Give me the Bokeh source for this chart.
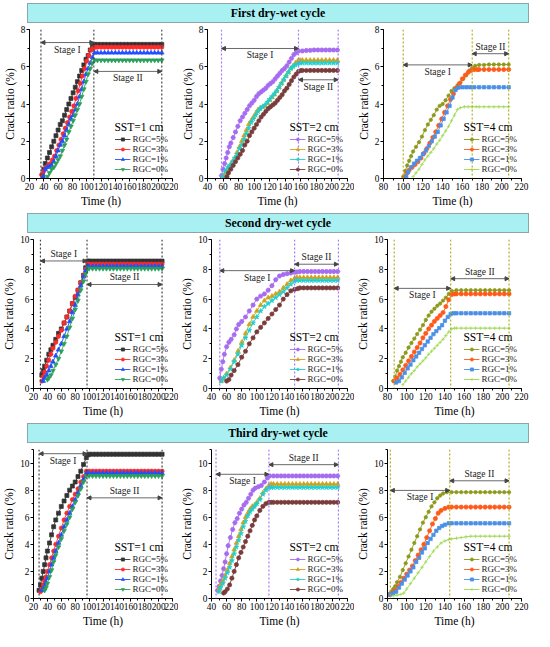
from bokeh.plotting import figure
from bokeh.models import (Range1d, SingleIntervalTicker, Legend, LegendItem, Span,
                          Arrow, NormalHead, Label, Div)
from bokeh.layouts import row, column
from bokeh.embed import file_html
from bokeh.resources import INLINE

# ---------------- labels ----------------
CYCLES = ["First dry-wet cycle", "Second dry-wet cycle", "Third dry-wet cycle"]
SST = ["SST=1 cm", "SST=2 cm", "SST=4 cm"]
RGC = ["RGC=5%", "RGC=3%", "RGC=1%", "RGC=0%"]
X_RANGES = [(20, 220), (40, 220), (80, 220)]
Y_MAX = [8, 10, 11]
X_TICK_STEP = 20
Y_TICK_STEP = 2

# ---------------- stage boundaries (h) ----------------
P1_STAGE = [36, 110, 205]
P2_STAGE = [58, 157, 208]
P3_STAGE = [100, 170, 207]
P4_STAGE = [30, 97, 205]
P5_STAGE = [51, 150, 208]
P6_STAGE = [87, 146, 207]
P7_STAGE = [28, 97, 205]
P8_STAGE = [46, 116, 208]
P9_STAGE = [83, 145, 207]

# ---------------- Row 1, SST=1 cm ----------------
P1_TF = [115, 120, 125, 130, 135, 140, 145, 150, 155, 160, 165, 170, 175, 180, 185, 190, 195, 200, 205]
P1_T5 = [38, 40, 42, 45, 48, 51, 54, 57, 60, 63, 66, 69, 72, 75, 78, 81, 84, 87, 90, 93, 96, 99, 102, 105, 108, 111]
P1_Y5 = [0.2, 0.5, 0.8, 1.1, 1.4, 1.7, 2.0, 2.3, 2.6, 2.9, 3.1, 3.4, 3.7, 4.0, 4.3, 4.6, 4.9, 5.2, 5.5, 5.8, 6.1, 6.4, 6.6, 6.9, 7.1, 7.2]
P1_F5 = [7.2, 7.2, 7.2, 7.2, 7.2, 7.2, 7.2, 7.2, 7.2, 7.2, 7.2, 7.2, 7.2, 7.2, 7.2, 7.2, 7.2, 7.2, 7.2]
P1_T3 = [37, 40, 43, 46, 49, 52, 55, 58, 61, 64, 67, 70, 73, 76, 79, 82, 85, 88, 91, 94, 97, 100, 103, 106, 109, 112]
P1_Y3 = [0.2, 0.4, 0.6, 0.7, 0.8, 1.0, 1.2, 1.5, 1.8, 2.1, 2.4, 2.7, 3.0, 3.3, 3.6, 3.9, 4.3, 4.7, 5.1, 5.5, 5.9, 6.3, 6.6, 6.9, 7.0, 7.05]
P1_F3 = [7.05, 7.05, 7.05, 7.05, 7.05, 7.05, 7.05, 7.05, 7.05, 7.05, 7.05, 7.05, 7.05, 7.05, 7.05, 7.05, 7.05, 7.05, 7.05]
P1_T1 = [39, 42, 45, 48, 51, 54, 57, 60, 63, 66, 69, 72, 75, 78, 81, 84, 87, 90, 93, 96, 99, 102, 105, 108, 111]
P1_Y1 = [0.1, 0.5, 0.6, 0.65, 0.7, 0.9, 1.2, 1.5, 1.8, 2.0, 2.3, 2.6, 2.9, 3.2, 3.4, 3.7, 4.0, 4.4, 4.8, 5.2, 5.6, 5.9, 6.2, 6.5, 6.75]
P1_F1 = [6.75, 6.75, 6.75, 6.75, 6.75, 6.75, 6.75, 6.75, 6.75, 6.75, 6.75, 6.75, 6.75, 6.75, 6.75, 6.75, 6.75, 6.75, 6.75]
P1_T0 = [45, 48, 51, 54, 57, 60, 63, 66, 69, 72, 75, 78, 81, 84, 87, 90, 93, 96, 99, 102, 105, 108, 111]
P1_Y0 = [0.1, 0.3, 0.5, 0.6, 0.8, 1.0, 1.2, 1.5, 1.8, 2.1, 2.5, 2.8, 3.1, 3.4, 3.7, 4.0, 4.4, 4.8, 5.2, 5.6, 5.9, 6.2, 6.35]
P1_F0 = [6.35, 6.35, 6.35, 6.35, 6.35, 6.35, 6.35, 6.35, 6.35, 6.35, 6.35, 6.35, 6.35, 6.35, 6.35, 6.35, 6.35, 6.35, 6.35]

# ---------------- Row 1, SST=2 cm ----------------
P2_TF = [162, 167, 172, 177, 182, 187, 192, 197, 202, 207]
P2_T5 = [58, 60, 62, 64, 66, 68, 70, 73, 76, 79, 82, 85, 88, 91, 94, 97, 100, 103, 106, 109, 112, 115, 118, 121, 124, 127, 130, 133, 136, 139, 142, 145, 148, 151, 154, 157]
P2_Y5 = [0.15, 0.5, 0.8, 1.1, 1.4, 1.7, 1.9, 2.2, 2.5, 2.8, 3.1, 3.3, 3.5, 3.7, 3.9, 4.05, 4.2, 4.4, 4.55, 4.65, 4.75, 4.85, 5.0, 5.1, 5.2, 5.35, 5.5, 5.65, 5.8, 5.9, 6.05, 6.25, 6.45, 6.65, 6.75, 6.85]
P2_F5 = [6.85, 6.87, 6.88, 6.9, 6.9, 6.9, 6.9, 6.9, 6.9, 6.9]
P2_T3 = [60, 63, 66, 69, 72, 75, 78, 81, 84, 87, 90, 93, 96, 99, 102, 105, 108, 111, 114, 117, 120, 123, 126, 129, 132, 135, 138, 141, 144, 147, 150, 153, 156, 159]
P2_Y3 = [0.1, 0.3, 0.5, 0.7, 0.9, 1.1, 1.4, 1.7, 2.0, 2.3, 2.6, 2.9, 3.1, 3.3, 3.5, 3.7, 3.8, 3.85, 3.9, 4.05, 4.2, 4.35, 4.5, 4.7, 4.9, 5.1, 5.3, 5.5, 5.7, 5.9, 6.05, 6.2, 6.3, 6.35]
P2_F3 = [6.35, 6.35, 6.35, 6.35, 6.35, 6.35, 6.35, 6.35, 6.35, 6.35]
P2_T1 = [60, 63, 66, 69, 72, 75, 78, 81, 84, 87, 90, 93, 96, 99, 102, 105, 108, 111, 114, 117, 120, 123, 126, 129, 132, 135, 138, 141, 144, 147, 150, 153, 156, 159]
P2_Y1 = [0.1, 0.4, 0.6, 0.7, 0.9, 1.1, 1.3, 1.6, 1.8, 2.1, 2.4, 2.7, 3.0, 3.2, 3.4, 3.6, 3.75, 3.85, 3.95, 4.1, 4.25, 4.4, 4.55, 4.7, 4.9, 5.1, 5.3, 5.5, 5.7, 5.9, 6.0, 6.1, 6.15, 6.2]
P2_F1 = [6.2, 6.2, 6.2, 6.2, 6.2, 6.2, 6.2, 6.2, 6.2, 6.2]
P2_T0 = [65, 67, 70, 73, 76, 79, 82, 85, 88, 91, 94, 97, 100, 103, 106, 109, 112, 115, 118, 121, 124, 127, 130, 133, 136, 139, 142, 145, 148, 151, 154, 157, 160]
P2_Y0 = [0.1, 0.3, 0.5, 0.7, 0.9, 1.1, 1.3, 1.5, 1.8, 2.0, 2.3, 2.5, 2.7, 2.9, 3.1, 3.3, 3.45, 3.6, 3.75, 3.85, 3.95, 4.05, 4.2, 4.35, 4.5, 4.7, 4.85, 5.05, 5.25, 5.45, 5.6, 5.75, 5.8]
P2_F0 = [5.8, 5.8, 5.8, 5.8, 5.8, 5.8, 5.8, 5.8, 5.8, 5.8]

# ---------------- Row 1, SST=4 cm ----------------
P3_TF = [177, 182, 187, 192, 197, 202, 207]
P3_T5 = [100, 102, 104, 106, 108, 110, 113, 116, 119, 122, 125, 128, 131, 134, 137, 140, 143, 146, 149, 152, 155, 158, 161, 164, 167, 170, 173]
P3_Y5 = [0.1, 0.4, 0.7, 0.95, 1.2, 1.45, 1.7, 1.95, 2.25, 2.6, 2.9, 3.15, 3.4, 3.7, 3.9, 4.0, 4.2, 4.45, 4.7, 4.85, 5.0, 5.15, 5.35, 5.55, 5.8, 5.95, 6.05]
P3_F5 = [6.1, 6.1, 6.12, 6.12, 6.12, 6.12, 6.12]
P3_T3 = [102, 104, 106, 109, 112, 115, 118, 121, 124, 127, 130, 133, 136, 139, 142, 145, 148, 151, 154, 157, 160, 163, 166, 169, 172, 175]
P3_Y3 = [0.1, 0.3, 0.45, 0.6, 0.75, 0.9, 1.1, 1.35, 1.6, 1.9, 2.2, 2.5, 2.85, 3.2, 3.55, 3.9, 4.25, 4.55, 4.85, 5.1, 5.35, 5.55, 5.7, 5.8, 5.85, 5.85]
P3_F3 = [5.85, 5.85, 5.85, 5.85, 5.85, 5.85, 5.85]
P3_T1 = [103, 105, 108, 111, 114, 117, 120, 123, 126, 129, 132, 135, 138, 141, 144, 147, 150, 153, 156, 160, 164, 168, 172]
P3_Y1 = [0.1, 0.35, 0.6, 0.8, 0.95, 1.1, 1.3, 1.5, 1.75, 2.0, 2.25, 2.5, 2.85, 3.2, 3.55, 3.9, 4.35, 4.75, 4.88, 4.9, 4.9, 4.9, 4.9]
P3_F1 = [4.9, 4.9, 4.9, 4.9, 4.9, 4.9, 4.9]
P3_T0 = [110, 113, 116, 119, 122, 125, 128, 131, 134, 137, 140, 143, 146, 149, 152, 155, 158, 162, 166, 170, 174]
P3_Y0 = [0.1, 0.3, 0.5, 0.75, 1.0, 1.2, 1.4, 1.6, 1.85, 2.05, 2.3, 2.55, 2.8, 3.1, 3.4, 3.7, 3.8, 3.85, 3.85, 3.85, 3.85]
P3_F0 = [3.85, 3.85, 3.85, 3.85, 3.85, 3.85, 3.85]

# ---------------- Row 2, SST=1 cm ----------------
P4_TF = [100, 105, 110, 115, 120, 125, 130, 135, 140, 145, 150, 155, 160, 165, 170, 175, 180, 185, 190, 195, 200, 205]
P4_T5 = [32, 34, 36, 39, 42, 45, 48, 52, 56, 60, 64, 68, 72, 76, 80, 84, 88, 92, 95, 98]
P4_Y5 = [0.9, 1.2, 1.5, 1.9, 2.3, 2.6, 2.9, 3.3, 3.7, 4.0, 4.4, 4.8, 5.2, 5.7, 6.1, 6.6, 7.1, 7.6, 8.1, 8.55]
P4_F5 = [8.55, 8.55, 8.55, 8.55, 8.55, 8.55, 8.55, 8.55, 8.55, 8.55, 8.55, 8.55, 8.55, 8.55, 8.55, 8.55, 8.55, 8.55, 8.55, 8.55, 8.55, 8.55]
P4_T3 = [32, 34, 36, 39, 42, 45, 48, 52, 56, 60, 64, 68, 72, 76, 80, 84, 88, 92, 95, 98]
P4_Y3 = [0.5, 0.8, 1.1, 1.5, 1.9, 2.3, 2.7, 3.1, 3.5, 3.9, 4.4, 4.8, 5.2, 5.7, 6.2, 6.6, 7.1, 7.6, 8.0, 8.35]
P4_F3 = [8.35, 8.35, 8.35, 8.35, 8.35, 8.35, 8.35, 8.35, 8.35, 8.35, 8.35, 8.35, 8.35, 8.35, 8.35, 8.35, 8.35, 8.35, 8.35, 8.35, 8.35, 8.35]
P4_T1 = [34, 36, 39, 42, 45, 48, 52, 56, 60, 64, 68, 72, 76, 80, 84, 88, 92, 95, 98]
P4_Y1 = [0.5, 0.7, 0.9, 1.2, 1.5, 1.8, 2.2, 2.6, 3.0, 3.5, 4.0, 4.5, 5.1, 5.6, 6.3, 6.9, 7.5, 7.9, 8.2]
P4_F1 = [8.2, 8.2, 8.2, 8.2, 8.2, 8.2, 8.2, 8.2, 8.2, 8.2, 8.2, 8.2, 8.2, 8.2, 8.2, 8.2, 8.2, 8.2, 8.2, 8.2, 8.2, 8.2]
P4_T0 = [40, 42, 45, 48, 52, 56, 60, 64, 68, 72, 76, 80, 84, 88, 92, 95, 98]
P4_Y0 = [0.6, 0.7, 0.9, 1.2, 1.6, 2.0, 2.5, 3.0, 3.5, 4.1, 4.7, 5.3, 5.9, 6.6, 7.2, 7.7, 8.05]
P4_F0 = [8.05, 8.05, 8.05, 8.05, 8.05, 8.05, 8.05, 8.05, 8.05, 8.05, 8.05, 8.05, 8.05, 8.05, 8.05, 8.05, 8.05, 8.05, 8.05, 8.05, 8.05, 8.05]

# ---------------- Row 2, SST=2 cm ----------------
P5_TF = [157, 162, 167, 172, 177, 182, 187, 192, 197, 202, 207]
P5_T5 = [51, 53, 55, 57, 60, 63, 66, 70, 73, 76, 80, 85, 90, 95, 100, 105, 110, 115, 120, 125, 130, 135, 140, 145, 150, 153]
P5_Y5 = [0.7, 1.3, 1.8, 2.3, 2.8, 3.1, 3.3, 3.6, 4.0, 4.3, 4.5, 4.8, 5.2, 5.6, 6.0, 6.2, 6.35, 6.6, 6.9, 7.3, 7.55, 7.65, 7.7, 7.75, 7.8, 7.82]
P5_F5 = [7.85, 7.85, 7.85, 7.85, 7.85, 7.85, 7.85, 7.85, 7.85, 7.85, 7.85]
P5_T3 = [53, 56, 60, 65, 70, 75, 80, 85, 90, 95, 100, 105, 110, 115, 120, 125, 130, 135, 140, 145, 150, 153]
P5_Y3 = [0.5, 0.7, 1.0, 1.4, 1.9, 2.5, 3.1, 3.7, 4.3, 4.8, 5.2, 5.6, 5.9, 6.1, 6.2, 6.35, 6.5, 6.75, 7.0, 7.25, 7.4, 7.45]
P5_F3 = [7.45, 7.45, 7.45, 7.45, 7.45, 7.45, 7.45, 7.45, 7.45, 7.45, 7.45]
P5_T1 = [53, 56, 60, 65, 70, 75, 80, 85, 90, 95, 100, 105, 110, 115, 120, 125, 130, 135, 140, 145, 150, 153]
P5_Y1 = [0.5, 0.7, 0.9, 1.3, 1.8, 2.3, 2.9, 3.4, 3.9, 4.4, 4.8, 5.2, 5.5, 5.7, 5.9, 6.1, 6.3, 6.5, 6.75, 7.0, 7.2, 7.25]
P5_F1 = [7.25, 7.25, 7.25, 7.25, 7.25, 7.25, 7.25, 7.25, 7.25, 7.25, 7.25]
P5_T0 = [60, 63, 66, 70, 75, 80, 85, 90, 95, 100, 105, 110, 115, 120, 125, 130, 135, 140, 145, 150, 154]
P5_Y0 = [0.5, 0.6, 0.9, 1.2, 1.6, 2.1, 2.5, 3.0, 3.4, 3.8, 4.1, 4.4, 4.7, 5.0, 5.3, 5.6, 6.0, 6.3, 6.55, 6.65, 6.7]
P5_F0 = [6.75, 6.75, 6.75, 6.75, 6.75, 6.75, 6.75, 6.75, 6.75, 6.75, 6.75]

# ---------------- Row 2, SST=4 cm ----------------
P6_TF = [152, 157, 162, 167, 172, 177, 182, 187, 192, 197, 202, 207]
P6_T5 = [86, 88, 90, 92, 94, 96, 99, 102, 105, 108, 111, 114, 117, 120, 123, 126, 129, 132, 135, 138, 141, 144, 147]
P6_Y5 = [0.5, 0.8, 1.2, 1.5, 1.8, 2.1, 2.4, 2.75, 3.05, 3.35, 3.65, 3.95, 4.25, 4.6, 4.9, 5.15, 5.35, 5.55, 5.7, 5.9, 6.1, 6.35, 6.55]
P6_F5 = [6.6, 6.6, 6.6, 6.6, 6.6, 6.6, 6.6, 6.6, 6.6, 6.6, 6.6, 6.6]
P6_T3 = [87, 90, 93, 96, 99, 102, 105, 108, 111, 114, 117, 120, 123, 126, 129, 132, 135, 138, 141, 144, 147, 150]
P6_Y3 = [0.5, 0.7, 0.95, 1.25, 1.55, 1.85, 2.15, 2.45, 2.75, 3.05, 3.4, 3.7, 4.0, 4.25, 4.5, 4.7, 4.9, 5.1, 5.5, 5.95, 6.3, 6.35]
P6_F3 = [6.35, 6.35, 6.35, 6.35, 6.35, 6.35, 6.35, 6.35, 6.35, 6.35, 6.35, 6.35]
P6_T1 = [89, 92, 95, 98, 101, 104, 107, 110, 113, 116, 119, 122, 125, 128, 131, 134, 137, 140, 143, 146, 149]
P6_Y1 = [0.4, 0.5, 0.75, 1.05, 1.35, 1.6, 1.9, 2.15, 2.4, 2.65, 2.9, 3.15, 3.4, 3.65, 3.85, 4.05, 4.25, 4.55, 4.8, 5.0, 5.05]
P6_F1 = [5.05, 5.05, 5.05, 5.05, 5.05, 5.05, 5.05, 5.05, 5.05, 5.05, 5.05, 5.05]
P6_T0 = [96, 99, 102, 105, 108, 111, 114, 117, 120, 123, 126, 129, 132, 135, 138, 141, 144, 147, 150]
P6_Y0 = [0.25, 0.5, 0.75, 1.0, 1.2, 1.45, 1.65, 1.85, 2.05, 2.3, 2.5, 2.7, 2.9, 3.1, 3.3, 3.55, 3.8, 4.0, 4.05]
P6_F0 = [4.05, 4.05, 4.05, 4.05, 4.05, 4.05, 4.05, 4.05, 4.05, 4.05, 4.05, 4.05]

# ---------------- Row 3, SST=1 cm ----------------
P7_TF = [100, 105, 110, 115, 120, 125, 130, 135, 140, 145, 150, 155, 160, 165, 170, 175, 180, 185, 190, 195, 200, 205]
P7_T5 = [28, 30, 32, 34, 36, 38, 40, 43, 46, 49, 52, 56, 60, 64, 68, 72, 76, 80, 84, 88, 92, 96, 98]
P7_Y5 = [0.6, 1.0, 1.5, 2.0, 2.5, 3.0, 3.5, 4.1, 4.7, 5.3, 5.8, 6.3, 6.8, 7.2, 7.6, 8.0, 8.3, 8.6, 9.0, 9.4, 9.9, 10.4, 10.6]
P7_F5 = [10.65, 10.65, 10.65, 10.65, 10.65, 10.65, 10.65, 10.65, 10.65, 10.65, 10.65, 10.65, 10.65, 10.65, 10.65, 10.65, 10.65, 10.65, 10.65, 10.65, 10.65, 10.65]
P7_T3 = [30, 32, 34, 36, 38, 40, 43, 46, 49, 52, 56, 60, 64, 68, 72, 76, 80, 84, 88, 92, 96]
P7_Y3 = [0.5, 0.7, 1.0, 1.3, 1.6, 2.0, 2.5, 3.0, 3.5, 4.0, 4.6, 5.2, 5.8, 6.3, 6.8, 7.3, 7.7, 8.1, 8.6, 9.0, 9.4]
P7_F3 = [9.4, 9.4, 9.4, 9.4, 9.4, 9.4, 9.4, 9.4, 9.4, 9.4, 9.4, 9.4, 9.4, 9.4, 9.4, 9.4, 9.4, 9.4, 9.4, 9.4, 9.4, 9.4]
P7_T1 = [32, 34, 36, 38, 40, 43, 46, 49, 52, 56, 60, 64, 68, 72, 76, 80, 84, 88, 92, 96]
P7_Y1 = [0.6, 0.7, 0.9, 1.2, 1.5, 2.0, 2.5, 3.0, 3.5, 4.1, 4.7, 5.3, 5.8, 6.3, 6.8, 7.3, 7.8, 8.3, 8.8, 9.25]
P7_F1 = [9.25, 9.25, 9.25, 9.25, 9.25, 9.25, 9.25, 9.25, 9.25, 9.25, 9.25, 9.25, 9.25, 9.25, 9.25, 9.25, 9.25, 9.25, 9.25, 9.25, 9.25, 9.25]
P7_T0 = [36, 38, 40, 43, 46, 49, 52, 56, 60, 64, 68, 72, 76, 80, 84, 88, 92, 96]
P7_Y0 = [0.6, 0.8, 1.1, 1.6, 2.1, 2.7, 3.2, 3.8, 4.4, 5.0, 5.5, 6.0, 6.6, 7.1, 7.6, 8.1, 8.6, 9.05]
P7_F0 = [9.05, 9.05, 9.05, 9.05, 9.05, 9.05, 9.05, 9.05, 9.05, 9.05, 9.05, 9.05, 9.05, 9.05, 9.05, 9.05, 9.05, 9.05, 9.05, 9.05, 9.05, 9.05]

# ---------------- Row 3, SST=2 cm ----------------
P8_TF = [122, 127, 132, 137, 142, 147, 152, 157, 162, 167, 172, 177, 182, 187, 192, 197, 202, 207]
P8_T5 = [48, 50, 52, 54, 56, 58, 60, 62, 65, 68, 71, 74, 77, 80, 83, 86, 89, 92, 95, 98, 102, 106, 110, 114, 117]
P8_Y5 = [0.6, 0.9, 1.3, 1.7, 2.2, 2.7, 3.3, 3.9, 4.5, 5.1, 5.6, 5.9, 6.3, 6.6, 6.9, 7.1, 7.4, 7.7, 8.0, 8.15, 8.25, 8.35, 8.6, 8.9, 9.05]
P8_F5 = [9.05, 9.05, 9.05, 9.05, 9.05, 9.05, 9.05, 9.05, 9.05, 9.05, 9.05, 9.05, 9.05, 9.05, 9.05, 9.05, 9.05, 9.05]
P8_T3 = [50, 52, 55, 58, 61, 64, 67, 70, 73, 76, 79, 82, 85, 88, 91, 94, 97, 100, 104, 108, 112, 116, 119]
P8_Y3 = [0.7, 1.0, 1.3, 1.7, 2.1, 2.6, 3.1, 3.6, 4.1, 4.6, 5.1, 5.6, 6.0, 6.3, 6.6, 6.8, 6.9, 7.1, 7.4, 7.8, 8.1, 8.35, 8.45]
P8_F3 = [8.45, 8.45, 8.45, 8.45, 8.45, 8.45, 8.45, 8.45, 8.45, 8.45, 8.45, 8.45, 8.45, 8.45, 8.45, 8.45, 8.45, 8.45]
P8_T1 = [50, 52, 55, 58, 61, 64, 67, 70, 73, 76, 79, 82, 85, 88, 91, 94, 97, 100, 104, 108, 112, 116, 119]
P8_Y1 = [0.5, 0.8, 1.1, 1.5, 1.9, 2.3, 2.8, 3.3, 3.8, 4.3, 4.8, 5.3, 5.7, 6.1, 6.4, 6.6, 6.8, 7.0, 7.3, 7.7, 8.0, 8.2, 8.2]
P8_F1 = [8.2, 8.2, 8.2, 8.2, 8.2, 8.2, 8.2, 8.2, 8.2, 8.2, 8.2, 8.2, 8.2, 8.2, 8.2, 8.2, 8.2, 8.2]
P8_T0 = [56, 58, 61, 64, 67, 70, 73, 76, 79, 82, 85, 88, 91, 94, 97, 100, 104, 108, 112, 116, 119]
P8_Y0 = [0.4, 0.5, 0.7, 1.0, 1.5, 2.0, 2.5, 3.0, 3.4, 3.8, 4.2, 4.6, 5.0, 5.4, 5.8, 6.1, 6.5, 6.8, 7.0, 7.1, 7.1]
P8_F0 = [7.1, 7.1, 7.1, 7.1, 7.1, 7.1, 7.1, 7.1, 7.1, 7.1, 7.1, 7.1, 7.1, 7.1, 7.1, 7.1, 7.1, 7.1]

# ---------------- Row 3, SST=4 cm ----------------
P9_TF = [147, 152, 157, 162, 167, 172, 177, 182, 187, 192, 197, 202, 207]
P9_T5 = [82, 84, 86, 88, 90, 93, 96, 99, 102, 105, 108, 111, 114, 117, 120, 123, 126, 129, 132, 135, 138, 142]
P9_Y5 = [0.3, 0.5, 0.7, 0.9, 1.2, 1.6, 2.1, 2.6, 3.1, 3.6, 4.1, 4.6, 5.1, 5.6, 6.0, 6.4, 6.8, 7.1, 7.4, 7.6, 7.75, 7.85]
P9_F5 = [7.85, 7.85, 7.85, 7.85, 7.85, 7.85, 7.85, 7.85, 7.85, 7.85, 7.85, 7.85, 7.85]
P9_T3 = [82, 85, 88, 91, 94, 97, 100, 103, 106, 109, 112, 115, 118, 121, 124, 127, 130, 133, 136, 140, 144]
P9_Y3 = [0.3, 0.4, 0.6, 0.9, 1.2, 1.5, 1.8, 2.1, 2.4, 2.8, 3.2, 3.6, 4.0, 4.5, 5.0, 5.5, 5.9, 6.3, 6.5, 6.65, 6.75]
P9_F3 = [6.75, 6.75, 6.75, 6.75, 6.75, 6.75, 6.75, 6.75, 6.75, 6.75, 6.75, 6.75, 6.75]
P9_T1 = [83, 86, 89, 92, 95, 98, 101, 104, 107, 110, 113, 116, 119, 122, 125, 128, 131, 134, 137, 140, 144]
P9_Y1 = [0.3, 0.4, 0.5, 0.8, 1.1, 1.4, 1.7, 2.0, 2.3, 2.7, 3.0, 3.4, 3.7, 4.1, 4.4, 4.7, 5.0, 5.2, 5.35, 5.45, 5.55]
P9_F1 = [5.55, 5.55, 5.55, 5.55, 5.55, 5.55, 5.55, 5.55, 5.55, 5.55, 5.55, 5.55, 5.55]
P9_T0 = [86, 90, 94, 97, 100, 104, 108, 112, 116, 120, 124, 128, 132, 136, 140, 144]
P9_Y0 = [0.2, 0.25, 0.3, 0.4, 0.7, 1.1, 1.5, 1.9, 2.3, 2.7, 3.1, 3.5, 3.8, 4.1, 4.25, 4.35]
P9_F0 = [4.4, 4.45, 4.5, 4.55, 4.6, 4.6, 4.6, 4.6, 4.6, 4.6, 4.6, 4.6, 4.6]

# ---------------- styling ----------------
FONT = "Liberation Serif"
COLORS = [["#333333", "#ff2a2a", "#1f4fff", "#2aa05a"],
          ["#a66cf0", "#d4a017", "#1ecfcf", "#7a3b3b"],
          ["#8c9a1a", "#ff5a1a", "#4a90e8", "#9ad94a"]]
MARKERS = [["square", "circle", "triangle", "inverted_triangle"],
           ["hex", "triangle", "star", "circle"],
           ["circle", "circle", "square", "cross"]]
SIZES = [[4, 4.2, 4.6, 4.6], [4.6, 4.6, 5.2, 4.2], [3.4, 4.2, 3.4, 3.6]]
SPAN_COLORS = ["#444444", "#a07cf0", "#b0b020"]
FIG_W = [178, 176, 180]
BORDER_R = [6, 7, 13]
FIG_H = 186


def make_panel(ri, ci, tf, series, stage, arrow_y, sides):
    x0, x1 = X_RANGES[ci]
    p = figure(width=FIG_W[ci], height=FIG_H, x_range=Range1d(x0, x1), y_range=Range1d(0, Y_MAX[ri]),
               output_backend="svg", toolbar_location=None,
               min_border_left=29, min_border_right=BORDER_R[ci], min_border_top=6, min_border_bottom=30)
    p.outline_line_color = None
    p.xgrid.visible = False
    p.ygrid.visible = False
    p.background_fill_color = "white"
    p.border_fill_color = "white"

    p.xaxis.ticker = SingleIntervalTicker(interval=X_TICK_STEP, num_minor_ticks=2)
    p.yaxis.ticker = SingleIntervalTicker(interval=Y_TICK_STEP, num_minor_ticks=2)
    p.xaxis.axis_label = "Time (h)"
    p.yaxis.axis_label = "Crack ratio (%)"
    for ax in (p.xaxis[0], p.yaxis[0]):
        ax.axis_label_text_font = FONT
        ax.axis_label_text_font_size = "11.5px"
        ax.axis_label_text_font_style = "normal"
        ax.axis_label_text_color = "black"
        ax.major_label_text_font = FONT
        ax.major_label_text_font_size = "9.3px"
        ax.major_label_text_color = "black"
        ax.axis_line_color = "black"
        ax.major_tick_line_color = "black"
        ax.minor_tick_line_color = "black"
        ax.major_tick_out = 3
        ax.major_tick_in = 0
        ax.minor_tick_out = 2
        ax.minor_tick_in = 0
        ax.axis_label_standoff = 2
        ax.major_label_standoff = 1

    items = []
    for k, (t, y, f) in enumerate(series):
        xs = t + tf
        ys = y + f
        n = min(len(xs), len(ys))
        xs, ys = xs[:n], ys[:n]
        c = COLORS[ci][k]
        lr = p.line(xs, ys, line_color=c, line_width=0.9)
        sr = p.scatter(xs, ys, marker=MARKERS[ci][k], size=SIZES[ci][k],
                       fill_color=c, line_color=c, line_width=0.7)
        items.append(LegendItem(label=RGC[k], renderers=[lr, sr]))

    for s in stage:
        p.add_layout(Span(location=s, dimension="height", line_color=SPAN_COLORS[ci],
                          line_dash="2 2", line_width=1.2))

    acol = "#444444"
    for j, (a, b) in enumerate([(stage[0], stage[1]), (stage[1], stage[2])]):
        yy = arrow_y[j]
        p.add_layout(Arrow(x_start=a, y_start=yy, x_end=b, y_end=yy,
                           start=NormalHead(size=4, fill_color=acol, line_color=acol),
                           end=NormalHead(size=4, fill_color=acol, line_color=acol),
                           line_color=acol, line_width=0.8))
        above = sides[j] == "above"
        p.add_layout(Label(x=(a + b) / 2, y=yy, text="Stage I" if j == 0 else "Stage II",
                           text_align="center", text_baseline="bottom" if above else "top",
                           y_offset=2 if above else -2, text_font=FONT, text_font_size="9.5px",
                           text_color="#222222"))

    leg = Legend(items=items, location="bottom_right", title=SST[ci],
                 title_text_font=FONT, title_text_font_size="11.5px", title_text_font_style="normal",
                 title_text_color="black", title_standoff=1,
                 label_text_font=FONT, label_text_font_size="9px", label_text_color="#222222",
                 glyph_width=16, glyph_height=8, label_height=8, label_standoff=2,
                 spacing=-1, padding=1, margin=3,
                 border_line_alpha=0, background_fill_alpha=0)
    p.add_layout(leg)
    return p


def banner(txt, top):
    html = ('<div style="box-sizing:border-box;width:502px;height:20px;background:#a8f0f2;'
            'border:1px solid #8aa6a8;text-align:center;line-height:18px;'
            "font-family:'Liberation Serif';font-weight:bold;font-size:11.8px;color:#000;\">"
            + txt + '</div>')
    return Div(text=html, width=502, height=20, margin=(top, 0, 0, 27))


panels = [
    (0, 0, P1_TF, [(P1_T5, P1_Y5, P1_F5), (P1_T3, P1_Y3, P1_F3), (P1_T1, P1_Y1, P1_F1), (P1_T0, P1_Y0, P1_F0)],
     P1_STAGE, [7.3, 5.75], ["below", "below"]),
    (0, 1, P2_TF, [(P2_T5, P2_Y5, P2_F5), (P2_T3, P2_Y3, P2_F3), (P2_T1, P2_Y1, P2_F1), (P2_T0, P2_Y0, P2_F0)],
     P2_STAGE, [6.98, 5.3], ["below", "below"]),
    (0, 2, P3_TF, [(P3_T5, P3_Y5, P3_F5), (P3_T3, P3_Y3, P3_F3), (P3_T1, P3_Y1, P3_F1), (P3_T0, P3_Y0, P3_F0)],
     P3_STAGE, [6.1, 6.7], ["below", "above"]),
    (1, 0, P4_TF, [(P4_T5, P4_Y5, P4_F5), (P4_T3, P4_Y3, P4_F3), (P4_T1, P4_Y1, P4_F1), (P4_T0, P4_Y0, P4_F0)],
     P4_STAGE, [8.56, 6.98], ["above", "above"]),
    (1, 1, P5_TF, [(P5_T5, P5_Y5, P5_F5), (P5_T3, P5_Y3, P5_F3), (P5_T1, P5_Y1, P5_F1), (P5_T0, P5_Y0, P5_F0)],
     P5_STAGE, [7.91, 8.34], ["below", "above"]),
    (1, 2, P6_TF, [(P6_T5, P6_Y5, P6_F5), (P6_T3, P6_Y3, P6_F3), (P6_T1, P6_Y1, P6_F1), (P6_T0, P6_Y0, P6_F0)],
     P6_STAGE, [6.72, 7.37], ["below", "above"]),
    (2, 0, P7_TF, [(P7_T5, P7_Y5, P7_F5), (P7_T3, P7_Y3, P7_F3), (P7_T1, P7_Y1, P7_F1), (P7_T0, P7_Y0, P7_F0)],
     P7_STAGE, [10.69, 7.43], ["below", "above"]),
    (2, 1, P8_TF, [(P8_T5, P8_Y5, P8_F5), (P8_T3, P8_Y3, P8_F3), (P8_T1, P8_Y1, P8_F1), (P8_T0, P8_Y0, P8_F0)],
     P8_STAGE, [9.17, 9.88], ["below", "above"]),
    (2, 2, P9_TF, [(P9_T5, P9_Y5, P9_F5), (P9_T3, P9_Y3, P9_F3), (P9_T1, P9_Y1, P9_F1), (P9_T0, P9_Y0, P9_F0)],
     P9_STAGE, [7.98, 8.69], ["below", "above"]),
]

figs = [make_panel(*args) for args in panels]

layout = column(
    banner(CYCLES[0], 3),
    row(figs[0], figs[1], figs[2]),
    banner(CYCLES[1], 4),
    row(figs[3], figs[4], figs[5]),
    banner(CYCLES[2], 4),
    row(figs[6], figs[7], figs[8]),
)

open("out.html", "w").write(file_html(layout, INLINE))
